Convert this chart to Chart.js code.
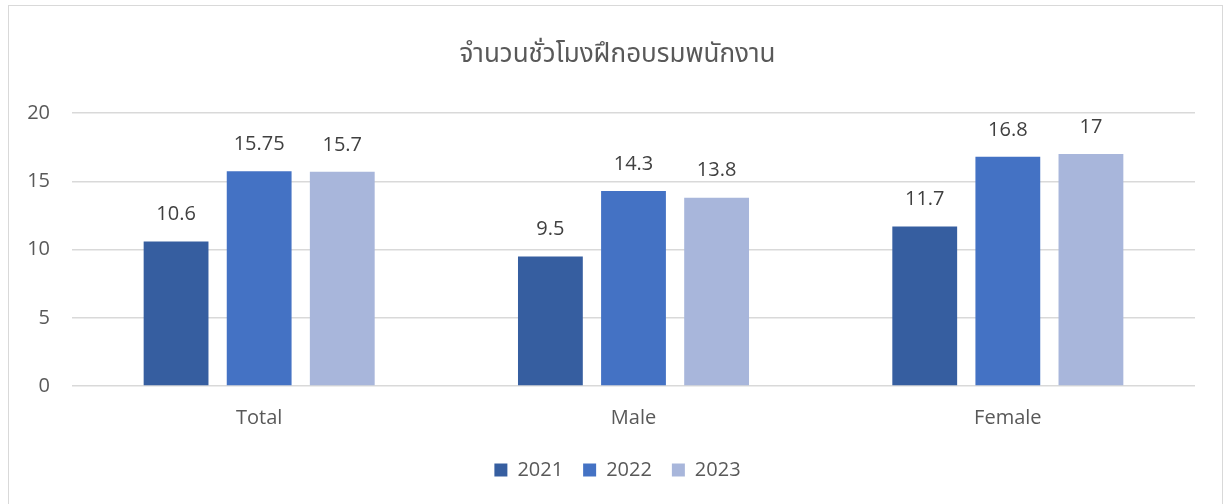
<!DOCTYPE html>
<html>
<head>
<meta charset="utf-8">
<script src="https://cdn.jsdelivr.net/npm/chart.js@4.4.0/dist/chart.umd.min.js"></script>
<style>
  html, body { margin: 0; padding: 0; background: #ffffff; }
  #wrap { position: relative; width: 1229px; height: 504px; }
  #frame { position: absolute; left: 8px; top: 5px; width: 1215px; height: 510px; border: 1px solid #d9d9d9; box-sizing: border-box; }
</style>
</head>
<body>
<div id="wrap">
  <div id="frame"></div>
  <canvas id="chart" width="1229" height="504"></canvas>
</div>
<script>
// ---- data ----
var categories = ['Total', 'Male', 'Female'];
var seriesNames = ['2021', '2022', '2023'];
var values2021 = [10.6, 9.5, 11.7];
var values2022 = [15.75, 14.3, 16.8];
var values2023 = [15.7, 13.8, 17];
var yTicks = [0, 5, 10, 15, 20];
var titleText = 'จำนวนชั่วโมงฝึกอบรมพนักงาน';

var colors = ['#365EA0', '#4472C4', '#A8B6DB'];
var font = "'Open Sans', 'Noto Sans', 'Noto Sans Thai', sans-serif";

// Draw the value above each bar
var barLabels = {
    id: 'barLabels',
    afterDatasetsDraw: function (chart) {
        var ctx = chart.ctx;
        ctx.save();
        ctx.font = '20px ' + font;
        ctx.fillStyle = '#404040';
        ctx.textAlign = 'center';
        ctx.textBaseline = 'middle';
        chart.data.datasets.forEach(function (ds, i) {
            chart.getDatasetMeta(i).data.forEach(function (bar, j) {
                ctx.fillText(String(ds.data[j]), bar.x, bar.y - 27);
            });
        });
        ctx.restore();
    }
};

// Title and legend sit centred on the whole frame, not only right of the y axis
var shiftBoxes = {
    id: 'shiftBoxes',
    afterLayout: function (chart) {
        [chart.titleBlock, chart.legend].forEach(function (box) {
            if (!box) return;
            box.left += 20;
            box.right += 20;
        });
    }
};

var datasets = [values2021, values2022, values2023].map(function (vals, i) {
    return {
        label: seriesNames[i],
        data: vals,
        backgroundColor: colors[i],
        borderWidth: 0,
        categoryPercentage: 0.666,
        barPercentage: 0.78
    };
});

new Chart(document.getElementById('chart'), {
    type: 'bar',
    data: { labels: categories, datasets: datasets },
    options: {
        responsive: false,
        animation: false,
        layout: { padding: { left: 0, right: 34, top: 0, bottom: 14 } },
        plugins: {
            title: {
                display: true,
                text: titleText,
                color: '#595959',
                font: { family: font, size: 26, weight: 'normal' },
                padding: { top: 39, bottom: 43 }
            },
            legend: {
                position: 'bottom',
                labels: {
                    color: '#595959',
                    font: { family: font, size: 20 },
                    boxWidth: 13,
                    boxHeight: 13,
                    padding: 20
                }
            },
            tooltip: { enabled: false }
        },
        scales: {
            x: {
                grid: { display: false },
                border: { display: false },
                ticks: { color: '#595959', font: { family: font, size: 20 }, padding: 12 },
                afterFit: function (scale) { scale.height = 54; }
            },
            y: {
                min: 0,
                max: 20,
                afterBuildTicks: function (scale) {
                    scale.ticks = yTicks.map(function (v) { return { value: v }; });
                },
                grid: { color: '#d9d9d9', lineWidth: 1.5, drawTicks: false },
                border: { display: false },
                ticks: { color: '#595959', font: { family: font, size: 20 }, padding: 22 },
                afterFit: function (scale) { scale.width = 72; }
            }
        }
    },
    plugins: [barLabels, shiftBoxes]
});
</script>
</body>
</html>
